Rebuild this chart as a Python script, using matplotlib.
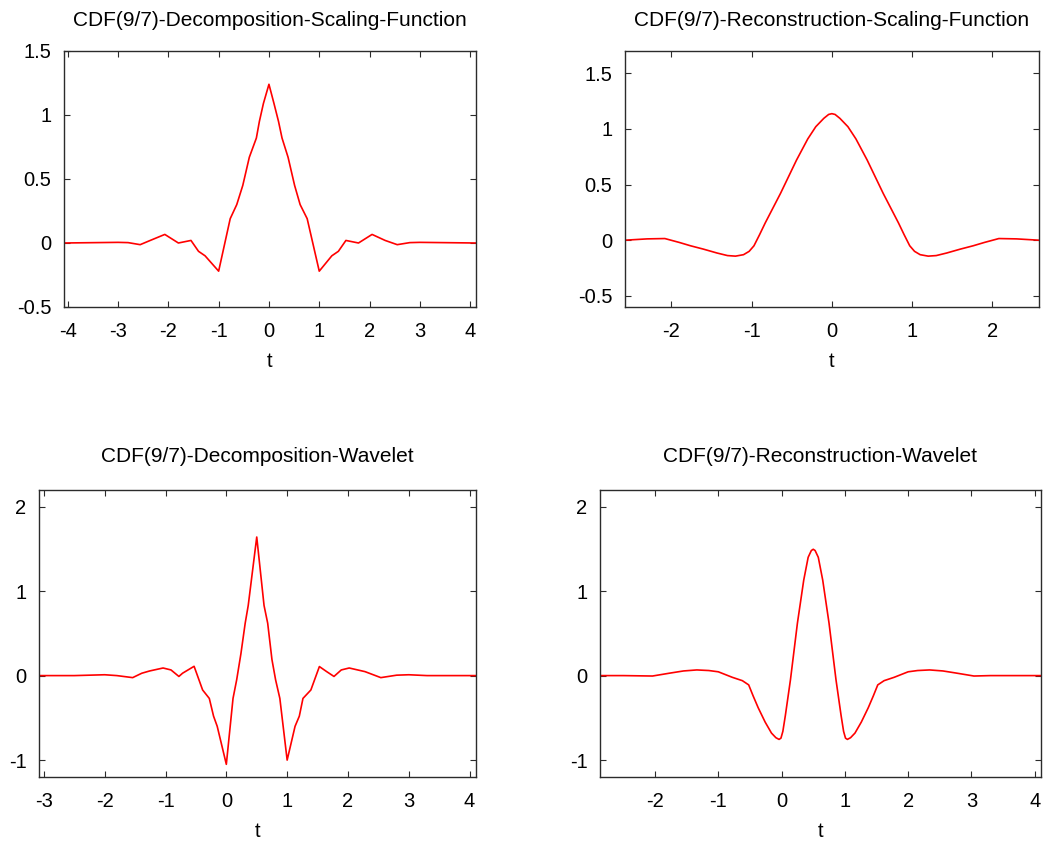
import matplotlib
matplotlib.use('Agg')
import matplotlib.pyplot as plt
from matplotlib.ticker import FormatStrFormatter

plt.rcParams['font.family'] = ['Liberation Sans', 'DejaVu Sans']
plt.rcParams['axes.unicode_minus'] = False

# decomposition scaling function
t_dec_phi = [-4.08, -3.0, -2.8, -2.56, -2.36, -2.07, -1.80, -1.55, -1.40, -1.27, -1.0,
             -0.77, -0.64, -0.52, -0.39, -0.25, -0.19, -0.11, 0.0, 0.10, 0.19, 0.26,
             0.38, 0.51, 0.62, 0.76, 1.0, 1.25, 1.38, 1.53, 1.78, 2.05, 2.31, 2.55,
             2.8, 3.0, 4.11]
y_dec_phi = [0.0, 0.005, 0.003, -0.013, 0.02, 0.067, 0.0, 0.02, -0.065, -0.10, -0.22,
             0.19, 0.30, 0.45, 0.67, 0.82, 0.95, 1.09, 1.24, 1.09, 0.95, 0.82,
             0.67, 0.45, 0.30, 0.19, -0.22, -0.10, -0.065, 0.02, 0.0, 0.067, 0.02, -0.013,
             0.003, 0.005, 0.0]

# reconstruction scaling function
t_rec_phi = [-2.58, -2.3, -2.08, -1.9, -1.76, -1.6, -1.43, -1.30, -1.20, -1.10, -1.03,
             -0.97, -0.90, -0.83, -0.64, -0.44, -0.30, -0.20, -0.10, -0.04, 0.0, 0.04,
             0.10, 0.20, 0.30, 0.44, 0.64, 0.83, 0.90, 0.97, 1.03, 1.10, 1.20, 1.30,
             1.43, 1.60, 1.76, 1.90, 2.08, 2.3, 2.58]
y_rec_phi = [0.0, 0.012, 0.015, -0.02, -0.05, -0.08, -0.115, -0.138, -0.143, -0.13, -0.10,
             -0.05, 0.05, 0.155, 0.42, 0.72, 0.91, 1.02, 1.095, 1.13, 1.137, 1.13,
             1.095, 1.02, 0.91, 0.72, 0.42, 0.155, 0.05, -0.05, -0.10, -0.13, -0.143, -0.138,
             -0.115, -0.08, -0.05, -0.02, 0.015, 0.012, 0.0]

# decomposition wavelet
t_dec_psi = [-3.08, -2.5, -2.0, -1.8, -1.54, -1.39, -1.26, -1.04, -0.91, -0.78, -0.72,
             -0.53, -0.39, -0.28, -0.21, -0.15, 0.0, 0.11, 0.17, 0.24, 0.31, 0.36,
             0.50, 0.62, 0.68, 0.75, 0.81, 0.88, 1.0, 1.13, 1.20, 1.26, 1.39, 1.53,
             1.65, 1.77, 1.89, 2.02, 2.28, 2.54, 2.8, 3.0, 3.3, 4.1]
y_dec_psi = [0.0, 0.0, 0.01, 0.0, -0.024, 0.028, 0.055, 0.09, 0.067, -0.01, 0.028,
             0.11, -0.17, -0.27, -0.48, -0.60, -1.05, -0.27, -0.05, 0.26, 0.62, 0.83,
             1.64, 0.83, 0.62, 0.19, -0.05, -0.27, -1.0, -0.60, -0.48, -0.27, -0.17, 0.107,
             0.047, -0.01, 0.067, 0.09, 0.047, -0.024, 0.005, 0.01, 0.0, 0.0]

# reconstruction wavelet
t_rec_psi = [-2.87, -2.5, -2.04, -1.76, -1.55, -1.34, -1.15, -1.0, -0.78, -0.62, -0.52,
             -0.45, -0.37, -0.26, -0.16, -0.09, -0.04, -0.01, 0.02, 0.06, 0.14, 0.25,
             0.35, 0.42, 0.47, 0.50, 0.53, 0.58, 0.65, 0.75, 0.86, 0.94, 0.98, 1.01,
             1.04, 1.09, 1.16, 1.26, 1.37, 1.45, 1.52, 1.62, 1.78, 2.0, 2.15, 2.34,
             2.55, 2.76, 3.04, 3.3, 4.1]
y_rec_psi = [0.0, 0.0, -0.005, 0.03, 0.055, 0.067, 0.06, 0.045, -0.02, -0.06, -0.11,
             -0.24, -0.38, -0.55, -0.68, -0.735, -0.755, -0.74, -0.66, -0.47, -0.05, 0.62,
             1.13, 1.40, 1.48, 1.495, 1.48, 1.40, 1.13, 0.62, -0.05, -0.47, -0.66, -0.74,
             -0.755, -0.735, -0.68, -0.55, -0.38, -0.24, -0.11, -0.06, -0.02, 0.045, 0.06, 0.067,
             0.055, 0.03, -0.005, 0.0, 0.0]

W, H = 1043, 850
FRAME = '#2b2b2b'


def _rect(left, right, top, bottom):
    return [left / W, 1 - bottom / H, (right - left) / W, (bottom - top) / H]


def draw_panel(fig, rect, t, y, title, xlim, ylim, xticks, yticks, title_pad):
    ax = fig.add_axes(rect)
    ax.plot(t, y, color='#ff0000', linewidth=1.2)
    ax.set_xlim(*xlim)
    ax.set_ylim(*ylim)
    ax.set_xticks(xticks)
    ax.set_yticks(yticks)
    ax.xaxis.set_major_formatter(FormatStrFormatter('%g'))
    ax.yaxis.set_major_formatter(FormatStrFormatter('%g'))
    ax.tick_params(direction='in', top=True, right=True, length=4, width=0.8,
                   color=FRAME, labelsize=14.5)
    ax.tick_params(axis='x', pad=11)
    ax.tick_params(axis='y', pad=9)
    for spine in ax.spines.values():
        spine.set_color(FRAME)
        spine.set_linewidth(1.0)
    ax.set_title(title, fontsize=15, pad=title_pad)
    ax.set_xlabel('t', fontsize=14.5, labelpad=8)
    return ax


fig = plt.figure(figsize=(W / 100, H / 100), dpi=100)

draw_panel(fig, _rect(63.7, 475.7, 51, 307), t_dec_phi, y_dec_phi,
           'CDF(9/7)-Decomposition-Scaling-Function',
           (-4.08, 4.11), (-0.5, 1.5), range(-4, 5), [-0.5, 0, 0.5, 1, 1.5], 18)
draw_panel(fig, _rect(624.7, 1039, 51, 307), t_rec_phi, y_rec_phi,
           'CDF(9/7)-Reconstruction-Scaling-Function',
           (-2.58, 2.58), (-0.6, 1.7), range(-2, 3), [-0.5, 0, 0.5, 1, 1.5], 18)
draw_panel(fig, _rect(39, 475.7, 489.7, 777), t_dec_psi, y_dec_psi,
           'CDF(9/7)-Decomposition-Wavelet',
           (-3.08, 4.1), (-1.2, 2.2), range(-3, 5), [-1, 0, 1, 2], 20)
draw_panel(fig, _rect(600, 1041, 489.7, 777), t_rec_psi, y_rec_psi,
           'CDF(9/7)-Reconstruction-Wavelet',
           (-2.87, 4.1), (-1.2, 2.2), range(-2, 5), [-1, 0, 1, 2], 20)

fig.savefig('out.png', dpi=100)
